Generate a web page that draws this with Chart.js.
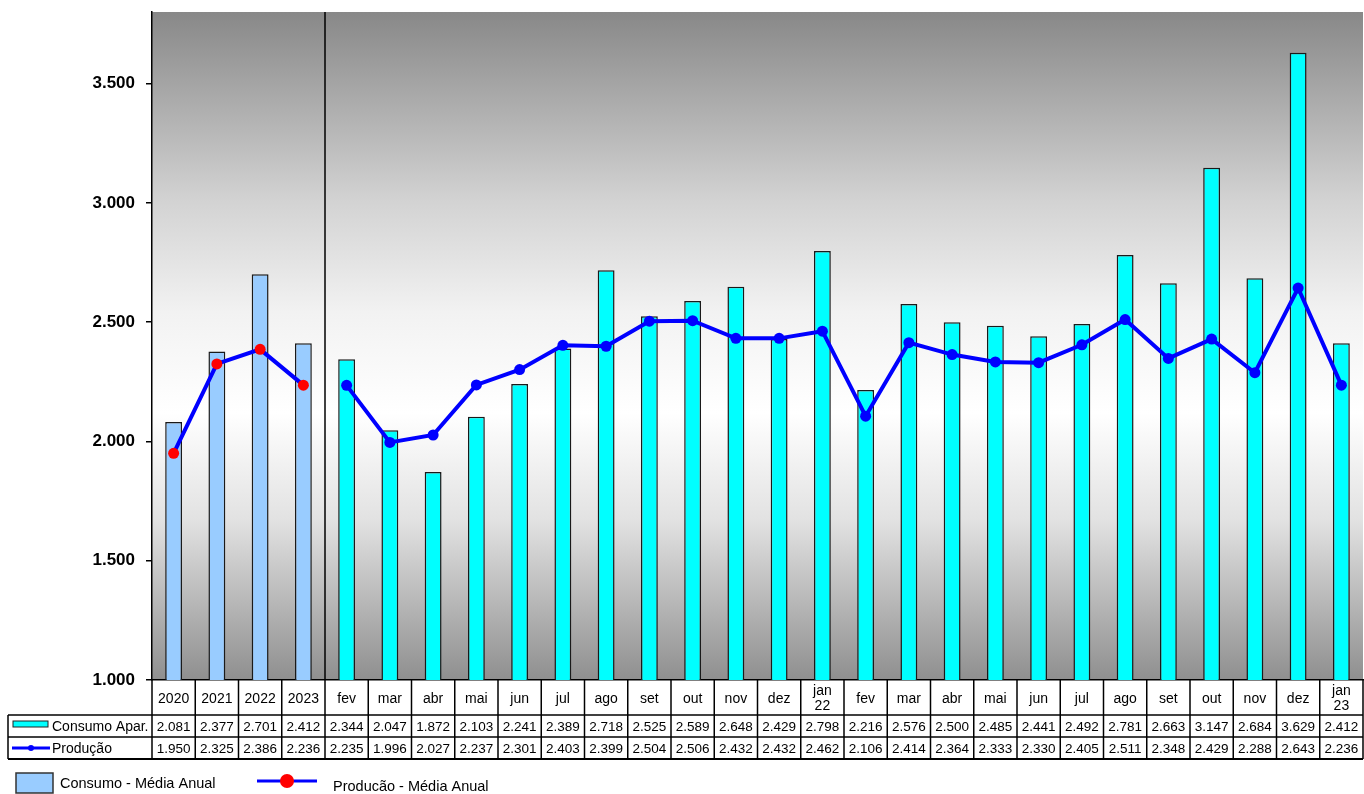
<!DOCTYPE html>
<html>
<head>
<meta charset="utf-8">
<script src="https://cdn.jsdelivr.net/npm/chart.js@4.4.1/dist/chart.umd.min.js"></script>
<style>
  html, body { margin: 0; padding: 0; background: #fff; }
  #wrap { width: 1364px; height: 794px; }
</style>
</head>
<body>
<div id="wrap"><canvas id="chart" width="1364" height="794"></canvas></div>
<script>
// Categories
const years = ["2020", "2021", "2022", "2023"];
const months = ["fev", "mar", "abr", "mai", "jun", "jul", "ago", "set", "out", "nov", "dez", ["jan", "22"],
                "fev", "mar", "abr", "mai", "jun", "jul", "ago", "set", "out", "nov", "dez", ["jan", "23"]];

// Series values
const consumoAnual = [2081, 2377, 2701, 2412];
const producaoAnual = [1950, 2325, 2386, 2236];
const consumoMensal = [2344, 2047, 1872, 2103, 2241, 2389, 2718, 2525, 2589, 2648, 2429, 2798,
                       2216, 2576, 2500, 2485, 2441, 2492, 2781, 2663, 3147, 2684, 3629, 2412];
const producaoMensal = [2235, 1996, 2027, 2237, 2301, 2403, 2399, 2504, 2506, 2432, 2432, 2462,
                        2106, 2414, 2364, 2333, 2330, 2405, 2511, 2348, 2429, 2288, 2643, 2236];

// Y axis ticks
const yTicks = [1000, 1500, 2000, 2500, 3000, 3500];

const labels = years.concat(months);
const consumo = consumoAnual.concat(consumoMensal);
const prodAnualLine = producaoAnual.concat(months.map(() => null));
const prodMensalLine = years.map(() => null).concat(producaoMensal);
const producao = producaoAnual.concat(producaoMensal);

const fmt = v => (v / 1000).toFixed(3);
const FONT = "'Liberation Sans', Arial, sans-serif";

// Background gradient of the plot area
const bgPlugin = {
    id: "bg",
    beforeDraw(chart) {
        const { ctx, chartArea: a } = chart;
        const g = ctx.createLinearGradient(0, a.top, 0, a.bottom);
        g.addColorStop(0, "#888888");
        g.addColorStop(0.28, "#d2d2d2");
        g.addColorStop(0.45, "#f2f2f2");
        g.addColorStop(0.6, "#ffffff");
        g.addColorStop(0.76, "#e2e2e2");
        g.addColorStop(1, "#8f8f8f");
        ctx.save();
        ctx.fillStyle = g;
        ctx.fillRect(a.left, a.top, a.right - a.left, a.bottom - a.top);
        ctx.restore();
    },
    beforeDatasetsDraw(chart) {
        // separator between annual averages and months
        const { ctx, chartArea: a } = chart;
        const x = chart.scales.x;
        const sx = (x.getPixelForValue(3) + x.getPixelForValue(4)) / 2;
        ctx.save();
        ctx.strokeStyle = "#000";
        ctx.lineWidth = 1.5;
        ctx.beginPath();
        ctx.moveTo(sx, a.top);
        ctx.lineTo(sx, a.bottom);
        ctx.stroke();
        ctx.restore();
    }
};

// Data table and bottom legend
const tablePlugin = {
    id: "table",
    afterDraw(chart) {
        const { ctx, chartArea: a } = chart;
        const x = chart.scales.x;
        const rowTop = a.bottom;          // 680
        const r1 = rowTop + 35;           // 715
        const r2 = r1 + 22;               // 737
        const r3 = r2 + 22;               // 759
        const leftX = 8;

        ctx.save();
        ctx.strokeStyle = "#000";
        ctx.lineWidth = 1.5;

        // column boundaries
        const bounds = [x.left];
        for (let i = 1; i < labels.length; i++) {
            bounds.push((x.getPixelForValue(i - 1) + x.getPixelForValue(i)) / 2);
        }
        bounds.push(x.right);
        bounds.forEach(b => {
            ctx.beginPath();
            ctx.moveTo(b, rowTop);
            ctx.lineTo(b, r3);
            ctx.stroke();
        });

        // horizontal lines
        [r1, r2].forEach(y => {
            ctx.beginPath();
            ctx.moveTo(leftX, y);
            ctx.lineTo(x.right, y);
            ctx.stroke();
        });
        ctx.lineWidth = 2;
        ctx.beginPath();
        ctx.moveTo(leftX, r3);
        ctx.lineTo(x.right, r3);
        ctx.stroke();
        ctx.lineWidth = 1.5;
        ctx.beginPath();
        ctx.moveTo(leftX, r1);
        ctx.lineTo(leftX, r3);
        ctx.stroke();

        // row values
        ctx.fillStyle = "#000";
        ctx.font = "13.5px " + FONT;
        ctx.textAlign = "center";
        ctx.textBaseline = "middle";
        labels.forEach((l, i) => {
            const cx = x.getPixelForValue(i);
            ctx.fillText(fmt(consumo[i]), cx, (r1 + r2) / 2 + 1);
            ctx.fillText(fmt(producao[i]), cx, (r2 + r3) / 2 + 1);
        });

        // row headers with swatches
        ctx.textAlign = "left";
        ctx.font = "14px " + FONT;
        ctx.fillText("Consumo Apar.", 52, (r1 + r2) / 2 + 1);
        ctx.fillText("Produção", 52, (r2 + r3) / 2 + 1);

        ctx.fillStyle = "#00ffff";
        ctx.fillRect(13, 721, 35, 6);
        ctx.lineWidth = 1;
        ctx.strokeStyle = "#222";
        ctx.strokeRect(13, 721, 35, 6);

        ctx.strokeStyle = "#0000ff";
        ctx.lineWidth = 3;
        ctx.beginPath();
        ctx.moveTo(12, 748);
        ctx.lineTo(50, 748);
        ctx.stroke();
        ctx.fillStyle = "#0000ff";
        ctx.beginPath();
        ctx.arc(31, 748, 3, 0, Math.PI * 2);
        ctx.fill();

        // bottom legend
        ctx.fillStyle = "#99ccff";
        ctx.fillRect(16, 773, 37, 20);
        ctx.strokeStyle = "#333";
        ctx.lineWidth = 1.5;
        ctx.strokeRect(16, 773, 37, 20);

        ctx.fillStyle = "#000";
        ctx.font = "14.5px " + FONT;
        ctx.fillText("Consumo - Média Anual", 60, 784);

        ctx.strokeStyle = "#0000ff";
        ctx.lineWidth = 3;
        ctx.beginPath();
        ctx.moveTo(257, 781);
        ctx.lineTo(317, 781);
        ctx.stroke();
        ctx.fillStyle = "#ff0000";
        ctx.beginPath();
        ctx.arc(287, 781, 7, 0, Math.PI * 2);
        ctx.fill();

        ctx.fillStyle = "#000";
        ctx.fillText("Producão - Média Anual", 333, 787);
        ctx.restore();
    }
};

const barColors = labels.map((l, i) => i < years.length ? "#99ccff" : "#00ffff");

new Chart(document.getElementById("chart"), {
    type: "bar",
    data: {
        labels: labels,
        datasets: [
            {
                type: "line",
                label: "Produção - Média Anual",
                data: prodAnualLine,
                borderColor: "#0000ff",
                borderWidth: 4,
                pointRadius: 5.5,
                pointBackgroundColor: "#ff0000",
                pointBorderColor: "#ff0000",
                pointBorderWidth: 0,
                tension: 0,
                spanGaps: false,
                clip: false,
                order: 1
            },
            {
                type: "line",
                label: "Produção",
                data: prodMensalLine,
                borderColor: "#0000ff",
                borderWidth: 4,
                pointRadius: 5.5,
                pointBackgroundColor: "#0000ff",
                pointBorderColor: "#0000ff",
                pointBorderWidth: 0,
                tension: 0,
                spanGaps: false,
                clip: false,
                order: 1
            },
            {
                label: "Consumo Apar.",
                data: consumo,
                backgroundColor: barColors,
                borderColor: "#1a1a1a",
                borderWidth: 1.5,
                barPercentage: 0.39,
                categoryPercentage: 1,
                order: 2
            }
        ]
    },
    options: {
        responsive: false,
        animation: false,
        devicePixelRatio: 1,
        layout: { autoPadding: false, padding: { left: 0, right: 1, top: 12, bottom: 79 } },
        plugins: {
            legend: { display: false },
            tooltip: { enabled: false }
        },
        scales: {
            x: {
                grid: { display: false, drawTicks: false },
                border: { display: true, color: "#000", width: 1.5 },
                ticks: {
                    color: "#000",
                    font: { family: FONT, size: 14, lineHeight: 1.1 },
                    padding: 11,
                    crossAlign: "center",
                    maxRotation: 0,
                    autoSkip: false
                },
                afterFit(scale) {
                    scale.height = 35;
                    scale.paddingLeft = 0;
                    scale.paddingRight = 0;
                }
            },
            y: {
                min: 1000,
                max: 3800,
                grid: { display: true, drawOnChartArea: false, drawTicks: true, tickLength: 6, color: "#000", lineWidth: 1.5 },
                border: { display: true, color: "#000", width: 1.5 },
                ticks: {
                    color: "#000",
                    font: { family: FONT, size: 17, weight: "bold" },
                    padding: 11,
                    callback: v => fmt(v)
                },
                afterBuildTicks(scale) { scale.ticks = yTicks.map(v => ({ value: v })); },
                afterFit(scale) {
                    scale.width = 152;
                    scale.paddingTop = 0;
                    scale.paddingBottom = 0;
                }
            }
        }
    },
    plugins: [bgPlugin, tablePlugin]
});
</script>
</body>
</html>
